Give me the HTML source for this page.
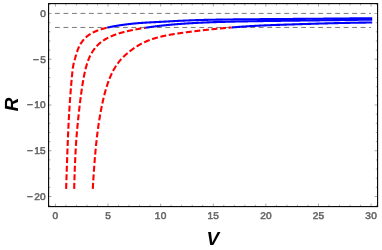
<!DOCTYPE html>
<html><head><meta charset="utf-8"><title>Plot</title>
<style>
html,body{margin:0;padding:0;background:#fff;}
body{width:382px;height:250px;position:relative;overflow:hidden;font-family:"Liberation Sans",sans-serif;}
.t{font-family:"Liberation Sans",sans-serif;font-size:9.8px;fill:#666;stroke:#666;stroke-width:0.55px;letter-spacing:0.25px;text-rendering:geometricPrecision;}
.ax{font-family:"Liberation Sans",sans-serif;font-size:19px;font-weight:bold;font-style:italic;fill:#000;text-rendering:geometricPrecision;}
</style></head><body>
<svg width="382" height="250" viewBox="0 0 382 250" style="position:absolute;left:0;top:0;will-change:transform">
<rect width="382" height="250" fill="#fff"/>
<line x1="55.00" y1="13.4" x2="370.99" y2="13.4" stroke="#7a7a7a" stroke-width="1" stroke-dasharray="4.85 3.64"/>
<line x1="55.00" y1="27.45" x2="370.99" y2="27.45" stroke="#7a7a7a" stroke-width="1" stroke-dasharray="4.85 3.64"/>
<path d="M66.10,188.90 L66.14,187.73 L66.20,186.23 L66.25,184.70 L66.31,183.14 L66.36,181.57 L66.42,179.99 L66.47,178.39 L66.53,176.77 L66.58,175.14 L66.64,173.50 L66.70,171.86 L66.75,170.21 L66.81,168.55 L66.87,166.89 L66.92,165.22 L66.98,163.56 L67.04,161.89 L67.10,160.23 L67.16,158.57 L67.22,156.92 L67.28,155.27 L67.34,153.62 L67.39,151.99 L67.45,150.36 L67.52,148.75 L67.58,147.14 L67.64,145.55 L67.70,143.97 L67.76,142.40 L67.82,140.85 L67.88,139.31 L67.95,137.79 L68.01,136.28 L68.07,134.79 L68.14,133.32 L68.20,131.87 L68.26,130.43 L68.33,129.02 L68.39,127.62 L68.46,126.24 L68.52,124.89 L68.59,123.55 L68.65,122.24 L68.72,120.95 L68.79,119.68 L68.85,118.43 L68.92,117.19 L68.99,115.98 L69.06,114.79 L69.12,113.61 L69.19,112.45 L69.26,111.30 L69.33,110.17 L69.40,109.05 L69.47,107.94 L69.54,106.85 L69.61,105.77 L69.68,104.70 L69.75,103.64 L69.83,102.59 L69.90,101.55 L69.97,100.52 L70.04,99.50 L70.12,98.48 L70.19,97.47 L70.26,96.47 L70.34,95.48 L70.41,94.49 L70.49,93.51 L70.56,92.54 L70.64,91.56 L70.71,90.60 L70.79,89.64 L70.86,88.68 L70.94,87.73 L71.02,86.78 L71.10,85.83 L71.17,84.89 L71.25,83.95 L71.33,83.01 L71.41,82.08 L71.49,81.16 L71.57,80.25 L71.65,79.34 L71.73,78.45 L71.81,77.58 L71.89,76.71 L71.98,75.87 L72.06,75.04 L72.14,74.22 L72.22,73.43 L72.31,72.66 L72.39,71.90 L72.48,71.17 L72.56,70.46 L72.65,69.78 L72.73,69.11 L72.82,68.47 L72.90,67.86 L72.99,67.27 L73.08,66.71 L73.17,66.17 L73.25,65.66 L73.34,65.17 L73.43,64.70 L73.52,64.25 L73.61,63.82 L73.70,63.41 L73.79,63.01 L73.88,62.62 L73.98,62.24 L74.07,61.88 L74.16,61.52 L74.25,61.18 L74.35,60.83 L74.44,60.50 L74.53,60.16 L74.63,59.83 L74.72,59.50 L74.82,59.17 L74.92,58.84 L75.01,58.51 L75.11,58.18 L75.21,57.84 L75.31,57.50 L75.40,57.16 L75.50,56.82 L75.60,56.47 L75.70,56.13 L75.80,55.79 L75.90,55.44 L76.00,55.10 L76.11,54.76 L76.21,54.42 L76.31,54.08 L76.42,53.75 L76.52,53.41 L76.62,53.08 L76.73,52.75 L76.83,52.43 L76.94,52.10 L77.05,51.79 L77.15,51.47 L77.26,51.16 L77.37,50.85 L77.48,50.55 L77.59,50.25 L77.70,49.96 L77.81,49.67 L77.92,49.39 L78.03,49.11 L78.14,48.83 L78.25,48.56 L78.36,48.30 L78.48,48.04 L78.59,47.78 L78.71,47.52 L78.82,47.27 L78.94,47.03 L79.05,46.78 L79.17,46.54 L79.29,46.31 L79.40,46.07 L79.52,45.84 L79.64,45.61 L79.76,45.39 L79.88,45.17 L80.00,44.95 L80.12,44.73 L80.25,44.52 L80.37,44.31 L80.49,44.10 L80.61,43.89 L80.74,43.69 L80.86,43.49 L80.99,43.29 L81.12,43.09 L81.24,42.90 L81.37,42.70 L81.50,42.51 L81.63,42.32 L81.75,42.14 L81.88,41.95 L82.01,41.77 L82.15,41.59 L82.28,41.41 L82.41,41.23 L82.54,41.05 L82.68,40.88 L82.81,40.71 L82.95,40.54 L83.08,40.37 L83.22,40.20 L83.35,40.04 L83.49,39.88 L83.63,39.71 L83.77,39.55 L83.91,39.40 L84.05,39.24 L84.19,39.08 L84.33,38.93 L84.47,38.78 L84.62,38.63 L84.76,38.48 L84.90,38.33 L85.05,38.19 L85.20,38.04 L85.34,37.90 L85.49,37.76 L85.64,37.62 L85.79,37.48 L85.93,37.34 L86.09,37.20 L86.24,37.07 L86.39,36.93 L86.54,36.80 L86.69,36.67 L86.85,36.54 L87.00,36.41 L87.16,36.28 L87.31,36.16 L87.47,36.03 L87.63,35.91 L87.78,35.79 L87.94,35.66 L88.10,35.54 L88.26,35.42 L88.43,35.31 L88.59,35.19 L88.75,35.07 L88.91,34.96 L89.08,34.84 L89.24,34.73 L89.41,34.62 L89.58,34.51 L89.74,34.40 L89.91,34.29 L90.08,34.18 L90.25,34.07 L90.42,33.97 L90.60,33.86 L90.77,33.76 L90.94,33.65 L91.12,33.55 L91.29,33.45 L91.47,33.35 L91.64,33.25 L91.82,33.15 L92.00,33.05 L92.18,32.95 L92.36,32.86 L92.54,32.76 L92.72,32.67 L92.91,32.57 L93.09,32.48 L93.28,32.38 L93.46,32.29 L93.65,32.20 L93.84,32.11 L94.02,32.02 L94.21,31.93 L94.40,31.84 L94.59,31.76 L94.79,31.67 L94.98,31.58 L95.17,31.50 L95.37,31.41 L95.56,31.33 L95.76,31.24 L95.96,31.16 L96.16,31.08 L96.36,31.00 L96.56,30.92 L96.76,30.84 L96.96,30.76 L97.17,30.68 L97.37,30.60 L97.58,30.52 L97.78,30.44 L97.99,30.37 L98.20,30.29 L98.41,30.21 L98.62,30.14 L98.83,30.06 L99.04,29.99 L99.26,29.91 L99.47,29.84 L99.69,29.77 L99.90,29.70 L100.12,29.63 L100.34,29.55 L100.56,29.48 L100.78,29.41 L101.00,29.34 L101.23,29.27 L101.45,29.21 L101.68,29.14 L101.90,29.07 L102.13,29.00 L102.36,28.93 L102.59,28.87 L102.82,28.80 L103.05,28.74 L103.28,28.67 L103.52,28.61 L103.75,28.54 L103.99,28.48 L104.23,28.41 L104.47,28.35 L104.71,28.29 L104.95,28.23 L105.19,28.16 L105.43,28.10 L105.68,28.04 L105.92,27.98 L106.17,27.92 L106.42,27.86 L106.67,27.80 L106.92,27.74 L107.17,27.68 L107.30,27.65" fill="none" stroke="#ff0000" stroke-width="2.1" stroke-dasharray="6 2.6" stroke-linejoin="round"/>
<path d="M74.18,188.90 L74.25,186.31 L74.33,183.53 L74.40,180.85 L74.48,178.28 L74.56,175.80 L74.64,173.43 L74.72,171.14 L74.80,168.95 L74.88,166.83 L74.96,164.79 L75.04,162.83 L75.12,160.94 L75.21,159.11 L75.29,157.35 L75.37,155.64 L75.45,154.00 L75.54,152.41 L75.62,150.87 L75.70,149.38 L75.79,147.93 L75.87,146.53 L75.96,145.17 L76.04,143.85 L76.13,142.57 L76.21,141.32 L76.30,140.10 L76.39,138.91 L76.47,137.76 L76.56,136.62 L76.65,135.52 L76.74,134.44 L76.83,133.37 L76.91,132.33 L77.00,131.31 L77.09,130.30 L77.18,129.31 L77.27,128.34 L77.36,127.37 L77.45,126.42 L77.54,125.48 L77.64,124.54 L77.73,123.61 L77.82,122.69 L77.91,121.78 L78.01,120.87 L78.10,119.96 L78.19,119.05 L78.29,118.15 L78.38,117.24 L78.48,116.34 L78.57,115.44 L78.67,114.54 L78.77,113.64 L78.86,112.74 L78.96,111.85 L79.06,110.96 L79.15,110.08 L79.25,109.20 L79.35,108.32 L79.45,107.44 L79.55,106.57 L79.65,105.71 L79.75,104.84 L79.85,103.99 L79.95,103.14 L80.05,102.29 L80.15,101.45 L80.26,100.61 L80.36,99.78 L80.46,98.95 L80.56,98.13 L80.67,97.32 L80.77,96.51 L80.88,95.71 L80.98,94.92 L81.09,94.13 L81.19,93.35 L81.30,92.57 L81.41,91.80 L81.52,91.04 L81.62,90.29 L81.73,89.54 L81.84,88.80 L81.95,88.06 L82.06,87.34 L82.17,86.62 L82.28,85.91 L82.39,85.20 L82.50,84.51 L82.61,83.82 L82.72,83.13 L82.84,82.46 L82.95,81.79 L83.06,81.13 L83.18,80.48 L83.29,79.84 L83.41,79.20 L83.52,78.57 L83.64,77.95 L83.76,77.34 L83.87,76.73 L83.99,76.13 L84.11,75.54 L84.23,74.96 L84.34,74.39 L84.46,73.82 L84.58,73.26 L84.70,72.71 L84.82,72.16 L84.95,71.63 L85.07,71.10 L85.19,70.58 L85.31,70.06 L85.44,69.56 L85.56,69.06 L85.68,68.57 L85.81,68.08 L85.93,67.61 L86.06,67.14 L86.18,66.68 L86.31,66.23 L86.44,65.78 L86.57,65.34 L86.69,64.91 L86.82,64.48 L86.95,64.06 L87.08,63.65 L87.21,63.25 L87.34,62.85 L87.48,62.45 L87.61,62.06 L87.74,61.68 L87.87,61.31 L88.01,60.93 L88.14,60.57 L88.28,60.21 L88.41,59.86 L88.55,59.51 L88.68,59.16 L88.82,58.82 L88.96,58.49 L89.09,58.16 L89.23,57.83 L89.37,57.51 L89.51,57.20 L89.65,56.89 L89.79,56.58 L89.93,56.28 L90.08,55.98 L90.22,55.68 L90.36,55.39 L90.51,55.10 L90.65,54.82 L90.79,54.54 L90.94,54.27 L91.09,53.99 L91.23,53.73 L91.38,53.46 L91.53,53.20 L91.68,52.94 L91.83,52.69 L91.98,52.43 L92.13,52.18 L92.28,51.94 L92.43,51.70 L92.58,51.46 L92.73,51.22 L92.89,50.99 L93.04,50.75 L93.19,50.53 L93.35,50.30 L93.51,50.08 L93.66,49.85 L93.82,49.64 L93.98,49.42 L94.14,49.21 L94.29,49.00 L94.45,48.79 L94.61,48.58 L94.78,48.38 L94.94,48.17 L95.10,47.97 L95.26,47.78 L95.43,47.58 L95.59,47.39 L95.75,47.19 L95.92,47.00 L96.09,46.81 L96.25,46.63 L96.42,46.44 L96.59,46.26 L96.76,46.08 L96.93,45.90 L97.10,45.72 L97.27,45.54 L97.44,45.37 L97.61,45.20 L97.79,45.03 L97.96,44.86 L98.14,44.69 L98.31,44.52 L98.49,44.35 L98.66,44.19 L98.84,44.03 L99.02,43.87 L99.20,43.71 L99.38,43.55 L99.56,43.39 L99.74,43.24 L99.92,43.08 L100.10,42.93 L100.29,42.78 L100.47,42.63 L100.66,42.48 L100.84,42.33 L101.03,42.19 L101.21,42.04 L101.40,41.90 L101.59,41.76 L101.78,41.61 L101.97,41.47 L102.16,41.34 L102.35,41.20 L102.54,41.06 L102.74,40.93 L102.93,40.79 L103.13,40.66 L103.32,40.53 L103.52,40.39 L103.72,40.26 L103.91,40.14 L104.11,40.01 L104.31,39.88 L104.51,39.76 L104.71,39.63 L104.92,39.51 L105.12,39.38 L105.32,39.26 L105.53,39.14 L105.73,39.02 L105.94,38.90 L106.15,38.78 L106.35,38.67 L106.56,38.55 L106.77,38.43 L106.98,38.32 L107.19,38.21 L107.40,38.09 L107.62,37.98 L107.83,37.87 L108.05,37.76 L108.26,37.65 L108.48,37.54 L108.70,37.43 L108.91,37.33 L109.13,37.22 L109.35,37.12 L109.57,37.01 L109.80,36.91 L110.02,36.80 L110.24,36.70 L110.47,36.60 L110.69,36.50 L110.92,36.40 L111.15,36.30 L111.37,36.20 L111.60,36.10 L111.83,36.00 L112.06,35.91 L112.30,35.81 L112.53,35.71 L112.76,35.62 L113.00,35.52 L113.23,35.43 L113.47,35.34 L113.71,35.25 L113.94,35.15 L114.18,35.06 L114.42,34.97 L114.67,34.88 L114.91,34.79 L115.15,34.70 L115.40,34.61 L115.64,34.53 L115.89,34.44 L116.14,34.35 L116.38,34.27 L116.63,34.18 L116.88,34.10 L117.14,34.01 L117.39,33.93 L117.64,33.84 L117.90,33.76 L118.15,33.68 L118.41,33.60 L118.67,33.51 L118.92,33.43 L119.18,33.35 L119.45,33.27 L119.71,33.19 L119.97,33.11 L120.23,33.03 L120.50,32.96 L120.77,32.88 L121.03,32.80 L121.30,32.72 L121.57,32.65 L121.84,32.57 L122.11,32.49 L122.39,32.42 L122.66,32.34 L122.93,32.27 L123.21,32.19 L123.49,32.12 L123.77,32.05 L124.04,31.97 L124.33,31.90 L124.61,31.83 L124.89,31.76 L125.17,31.68 L125.46,31.61 L125.75,31.54 L126.03,31.47 L126.32,31.40 L126.61,31.33 L126.90,31.26 L127.19,31.19 L127.49,31.12 L127.78,31.06 L128.08,30.99 L128.38,30.92 L128.67,30.85 L128.97,30.78 L129.27,30.72 L129.58,30.65 L129.88,30.58 L130.18,30.52 L130.49,30.45 L130.79,30.39 L131.10,30.32 L131.41,30.26 L131.72,30.19 L132.03,30.13 L132.35,30.06 L132.66,30.00 L132.98,29.93 L133.29,29.87 L133.61,29.81 L133.93,29.74 L134.25,29.68 L134.57,29.62 L134.90,29.56 L135.22,29.50 L135.55,29.43 L135.88,29.37 L136.20,29.31 L136.53,29.25 L136.87,29.19 L137.20,29.13 L137.53,29.07 L137.87,29.01 L138.20,28.95 L138.54,28.89 L138.88,28.83 L139.22,28.77 L139.56,28.71 L139.91,28.65 L140.25,28.59 L140.60,28.53 L140.95,28.47 L141.30,28.42 L141.65,28.36 L142.00,28.30 L142.35,28.24 L142.71,28.18 L143.06,28.13 L143.42,28.07 L143.78,28.01 L144.14,27.96 L144.50,27.90 L144.87,27.84 L145.20,27.79" fill="none" stroke="#ff0000" stroke-width="2.1" stroke-dasharray="6 2.6" stroke-linejoin="round"/>
<path d="M92.79,188.90 L92.83,188.15 L92.95,186.08 L93.07,184.05 L93.18,182.07 L93.30,180.12 L93.42,178.22 L93.54,176.35 L93.66,174.53 L93.78,172.74 L93.90,170.99 L94.02,169.27 L94.14,167.59 L94.26,165.94 L94.38,164.32 L94.50,162.74 L94.63,161.18 L94.75,159.66 L94.87,158.16 L94.99,156.70 L95.12,155.26 L95.24,153.84 L95.37,152.46 L95.49,151.09 L95.62,149.76 L95.74,148.44 L95.87,147.15 L95.99,145.88 L96.12,144.64 L96.25,143.41 L96.37,142.21 L96.50,141.03 L96.63,139.86 L96.76,138.72 L96.89,137.59 L97.02,136.49 L97.15,135.40 L97.28,134.32 L97.41,133.27 L97.54,132.23 L97.67,131.20 L97.80,130.20 L97.94,129.20 L98.07,128.22 L98.20,127.26 L98.34,126.31 L98.47,125.37 L98.60,124.44 L98.74,123.53 L98.87,122.63 L99.01,121.74 L99.14,120.87 L99.28,120.00 L99.42,119.15 L99.56,118.30 L99.69,117.47 L99.83,116.64 L99.97,115.83 L100.11,115.03 L100.25,114.23 L100.39,113.44 L100.53,112.67 L100.67,111.90 L100.81,111.13 L100.95,110.38 L101.09,109.63 L101.24,108.90 L101.38,108.16 L101.52,107.44 L101.67,106.72 L101.81,106.01 L101.96,105.31 L102.10,104.61 L102.25,103.93 L102.39,103.24 L102.54,102.57 L102.69,101.90 L102.83,101.24 L102.98,100.58 L103.13,99.94 L103.28,99.29 L103.43,98.66 L103.58,98.03 L103.73,97.41 L103.88,96.79 L104.03,96.18 L104.18,95.58 L104.33,94.98 L104.48,94.39 L104.64,93.80 L104.79,93.22 L104.95,92.65 L105.10,92.08 L105.25,91.52 L105.41,90.97 L105.57,90.42 L105.72,89.87 L105.88,89.33 L106.04,88.80 L106.19,88.27 L106.35,87.75 L106.51,87.23 L106.67,86.72 L106.83,86.22 L106.99,85.72 L107.15,85.22 L107.31,84.73 L107.47,84.25 L107.64,83.77 L107.80,83.29 L107.96,82.82 L108.13,82.36 L108.29,81.90 L108.45,81.45 L108.62,81.00 L108.78,80.55 L108.95,80.11 L109.12,79.68 L109.29,79.25 L109.45,78.82 L109.62,78.40 L109.79,77.98 L109.96,77.57 L110.13,77.17 L110.30,76.76 L110.47,76.36 L110.64,75.97 L110.81,75.58 L110.99,75.19 L111.16,74.81 L111.33,74.43 L111.51,74.06 L111.68,73.69 L111.86,73.33 L112.03,72.96 L112.21,72.60 L112.39,72.25 L112.56,71.90 L112.74,71.55 L112.92,71.21 L113.10,70.87 L113.28,70.53 L113.46,70.19 L113.64,69.86 L113.82,69.53 L114.00,69.21 L114.18,68.89 L114.37,68.57 L114.55,68.25 L114.74,67.94 L114.92,67.63 L115.11,67.33 L115.29,67.02 L115.48,66.72 L115.66,66.42 L115.85,66.13 L116.04,65.84 L116.23,65.55 L116.42,65.26 L116.61,64.98 L116.80,64.70 L116.99,64.42 L117.18,64.15 L117.37,63.87 L117.57,63.60 L117.76,63.34 L117.95,63.07 L118.15,62.81 L118.34,62.55 L118.54,62.30 L118.73,62.04 L118.93,61.79 L119.13,61.54 L119.33,61.30 L119.53,61.05 L119.73,60.81 L119.93,60.57 L120.13,60.34 L120.33,60.10 L120.53,59.87 L120.73,59.64 L120.94,59.41 L121.14,59.19 L121.34,58.96 L121.55,58.74 L121.75,58.52 L121.96,58.30 L122.17,58.08 L122.38,57.87 L122.58,57.65 L122.79,57.44 L123.00,57.23 L123.21,57.02 L123.42,56.81 L123.63,56.61 L123.85,56.40 L124.06,56.20 L124.27,56.00 L124.49,55.80 L124.70,55.60 L124.92,55.40 L125.13,55.20 L125.35,55.01 L125.57,54.81 L125.79,54.62 L126.00,54.43 L126.22,54.24 L126.44,54.05 L126.67,53.86 L126.89,53.67 L127.11,53.48 L127.33,53.29 L127.56,53.11 L127.78,52.92 L128.00,52.74 L128.23,52.56 L128.46,52.37 L128.68,52.19 L128.91,52.01 L129.14,51.83 L129.37,51.65 L129.60,51.47 L129.83,51.29 L130.06,51.11 L130.29,50.93 L130.53,50.76 L130.76,50.58 L130.99,50.40 L131.23,50.23 L131.46,50.05 L131.70,49.88 L131.94,49.70 L132.17,49.53 L132.41,49.35 L132.65,49.18 L132.89,49.01 L133.13,48.84 L133.37,48.67 L133.62,48.50 L133.86,48.33 L134.10,48.16 L134.35,47.99 L134.59,47.83 L134.84,47.66 L135.09,47.49 L135.33,47.33 L135.58,47.17 L135.83,47.00 L136.08,46.84 L136.33,46.68 L136.58,46.52 L136.84,46.36 L137.09,46.20 L137.34,46.04 L137.60,45.89 L137.85,45.73 L138.11,45.58 L138.36,45.42 L138.62,45.27 L138.88,45.12 L139.14,44.97 L139.40,44.82 L139.66,44.67 L139.92,44.52 L140.19,44.38 L140.45,44.23 L140.71,44.09 L140.98,43.94 L141.24,43.80 L141.51,43.66 L141.78,43.52 L142.05,43.38 L142.31,43.24 L142.58,43.10 L142.86,42.97 L143.13,42.83 L143.40,42.70 L143.67,42.57 L143.95,42.44 L144.22,42.31 L144.50,42.18 L144.77,42.05 L145.05,41.92 L145.33,41.80 L145.61,41.67 L145.89,41.55 L146.17,41.43 L146.45,41.31 L146.73,41.19 L147.02,41.07 L147.30,40.95 L147.59,40.83 L147.87,40.72 L148.16,40.60 L148.45,40.49 L148.74,40.37 L149.03,40.26 L149.32,40.15 L149.61,40.04 L149.90,39.93 L150.20,39.82 L150.49,39.72 L150.78,39.61 L151.08,39.50 L151.38,39.40 L151.68,39.30 L151.97,39.19 L152.27,39.09 L152.57,38.99 L152.88,38.89 L153.18,38.79 L153.48,38.69 L153.79,38.60 L154.09,38.50 L154.40,38.41 L154.71,38.31 L155.01,38.22 L155.32,38.13 L155.63,38.03 L155.94,37.94 L156.26,37.85 L156.57,37.76 L156.88,37.67 L157.20,37.59 L157.51,37.50 L157.83,37.41 L158.15,37.33 L158.47,37.24 L158.79,37.16 L159.11,37.08 L159.43,36.99 L159.75,36.91 L160.08,36.83 L160.40,36.75 L160.73,36.67 L161.05,36.60 L161.38,36.52 L161.71,36.44 L162.04,36.36 L162.37,36.29 L162.70,36.21 L163.04,36.14 L163.37,36.07 L163.70,35.99 L164.04,35.92 L164.38,35.85 L164.72,35.78 L165.06,35.71 L165.40,35.64 L165.74,35.57 L166.08,35.50 L166.42,35.43 L166.77,35.36 L167.11,35.30 L167.46,35.23 L167.81,35.16 L168.15,35.10 L168.50,35.03 L168.86,34.97 L169.21,34.91 L169.56,34.84 L169.91,34.78 L170.27,34.71 L170.63,34.65 L170.98,34.59 L171.34,34.53 L171.70,34.47 L172.06,34.41 L172.42,34.34 L172.79,34.28 L173.15,34.22 L173.52,34.16 L173.88,34.10 L174.25,34.05 L174.62,33.99 L174.99,33.93 L175.36,33.87 L175.73,33.81 L176.10,33.75 L176.48,33.70 L176.85,33.64 L177.23,33.58 L177.61,33.52 L177.99,33.47 L178.37,33.41 L178.75,33.35 L179.13,33.30 L179.52,33.24 L179.90,33.19 L180.29,33.13 L180.67,33.07 L181.06,33.02 L181.45,32.96 L181.84,32.91 L182.23,32.85 L182.63,32.80 L183.02,32.74 L183.42,32.69 L183.81,32.63 L184.21,32.58 L184.61,32.53 L185.01,32.47 L185.41,32.42 L185.82,32.36 L186.22,32.31 L186.63,32.25 L187.03,32.20 L187.44,32.14 L187.85,32.09 L188.26,32.04 L188.67,31.98 L189.09,31.93 L189.50,31.87 L189.92,31.82 L190.34,31.77 L190.75,31.71 L191.17,31.66 L191.59,31.61 L192.02,31.55 L192.44,31.50 L192.86,31.44 L193.29,31.39 L193.72,31.34 L194.15,31.28 L194.58,31.23 L195.01,31.18 L195.44,31.12 L195.88,31.07 L196.31,31.02 L196.75,30.96 L197.19,30.91 L197.62,30.86 L198.07,30.81 L198.51,30.75 L198.95,30.70 L199.40,30.65 L199.84,30.60 L200.29,30.54 L200.74,30.49 L201.19,30.44 L201.64,30.39 L202.10,30.34 L202.55,30.28 L203.01,30.23 L203.46,30.18 L203.92,30.13 L204.38,30.08 L204.84,30.03 L205.31,29.98 L205.77,29.92 L206.24,29.87 L206.71,29.82 L207.17,29.77 L207.64,29.72 L208.12,29.67 L208.59,29.62 L209.06,29.57 L209.54,29.52 L210.02,29.47 L210.50,29.42 L210.98,29.37 L211.46,29.32 L211.94,29.27 L212.43,29.22 L212.92,29.17 L213.40,29.12 L213.89,29.07 L214.38,29.02 L214.88,28.97 L215.37,28.93 L215.87,28.88 L216.36,28.83 L216.86,28.78 L217.36,28.73 L217.87,28.68 L218.37,28.64 L218.87,28.59 L219.38,28.54 L219.89,28.49 L220.40,28.45 L220.91,28.40 L221.42,28.35 L221.94,28.30 L222.45,28.26 L222.97,28.21 L223.49,28.16 L224.01,28.12 L224.53,28.07 L225.06,28.02 L225.58,27.98 L226.11,27.93 L226.64,27.89 L227.17,27.84 L227.70,27.80 L228.23,27.75 L228.77,27.71 L229.31,27.66 L229.85,27.62 L230.39,27.57 L230.93,27.53 L231.47,27.48 L231.60,27.47" fill="none" stroke="#ff0000" stroke-width="2.1" stroke-dasharray="6 2.6" stroke-linejoin="round"/>
<path d="M107.30,27.65 L107.42,27.62 L107.68,27.56 L107.93,27.50 L108.19,27.45 L108.45,27.39 L108.71,27.33 L108.97,27.27 L109.23,27.22 L109.49,27.16 L109.76,27.11 L110.02,27.05 L110.29,26.99 L110.56,26.94 L110.83,26.88 L111.10,26.83 L111.37,26.78 L111.64,26.72 L111.92,26.67 L112.19,26.61 L112.47,26.56 L112.75,26.51 L113.03,26.45 L113.31,26.40 L113.60,26.35 L113.88,26.30 L114.17,26.25 L114.45,26.19 L114.74,26.14 L115.03,26.09 L115.32,26.04 L115.61,25.99 L115.91,25.94 L116.20,25.89 L116.50,25.84 L116.80,25.79 L117.10,25.74 L117.40,25.69 L117.70,25.64 L118.01,25.59 L118.31,25.55 L118.62,25.50 L118.93,25.45 L119.24,25.40 L119.55,25.35 L119.86,25.31 L120.18,25.26 L120.49,25.21 L120.81,25.16 L121.13,25.12 L121.45,25.07 L121.77,25.02 L122.10,24.98 L122.42,24.93 L122.75,24.88 L123.08,24.84 L123.41,24.79 L123.74,24.75 L124.07,24.70 L124.41,24.66 L124.75,24.61 L125.08,24.57 L125.42,24.52 L125.77,24.48 L126.11,24.43 L126.45,24.39 L126.80,24.35 L127.15,24.30 L127.50,24.26 L127.85,24.22 L128.20,24.17 L128.56,24.13 L128.92,24.09 L129.28,24.05 L129.64,24.00 L130.00,23.96 L130.36,23.92 L130.73,23.88 L131.09,23.84 L131.46,23.80 L131.83,23.76 L132.21,23.72 L132.58,23.68 L132.96,23.64 L133.34,23.60 L133.72,23.57 L134.10,23.53 L134.48,23.49 L134.87,23.45 L135.25,23.42 L135.64,23.38 L136.04,23.34 L136.43,23.31 L136.82,23.27 L137.22,23.24 L137.62,23.21 L138.02,23.17 L138.42,23.14 L138.83,23.10 L139.23,23.07 L139.64,23.04 L140.05,23.01 L140.47,22.98 L140.88,22.95 L141.30,22.92 L141.72,22.89 L142.14,22.86 L142.56,22.83 L142.98,22.80 L143.41,22.77 L143.84,22.74 L144.27,22.72 L144.70,22.69 L145.14,22.66 L145.58,22.64 L146.01,22.61 L146.46,22.58 L146.90,22.56 L147.35,22.53 L147.79,22.51 L148.24,22.48 L148.70,22.46 L149.15,22.43 L149.61,22.41 L150.07,22.38 L150.53,22.36 L150.99,22.34 L151.46,22.31 L151.92,22.29 L152.39,22.26 L152.87,22.24 L153.34,22.22 L153.82,22.19 L154.30,22.17 L154.78,22.14 L155.26,22.12 L155.75,22.09 L156.24,22.07 L156.73,22.04 L157.22,22.02 L157.72,21.99 L158.22,21.97 L158.72,21.94 L159.22,21.91 L159.73,21.89 L160.24,21.86 L160.75,21.83 L161.26,21.81 L161.77,21.78 L162.29,21.75 L162.81,21.72 L163.34,21.69 L163.86,21.67 L164.39,21.64 L164.92,21.61 L165.45,21.58 L165.99,21.55 L166.53,21.52 L167.07,21.49 L167.61,21.46 L168.16,21.43 L168.71,21.40 L169.26,21.37 L169.81,21.34 L170.37,21.31 L170.93,21.28 L171.49,21.25 L172.06,21.22 L172.62,21.19 L173.20,21.16 L173.77,21.12 L174.34,21.09 L174.92,21.06 L175.51,21.03 L176.09,21.00 L176.68,20.97 L177.27,20.94 L177.86,20.91 L178.46,20.88 L179.06,20.85 L179.66,20.82 L180.26,20.80 L180.87,20.77 L181.48,20.74 L182.09,20.71 L182.71,20.68 L183.33,20.65 L183.95,20.62 L184.58,20.59 L185.21,20.57 L185.84,20.54 L186.47,20.51 L187.11,20.49 L187.75,20.46 L188.40,20.43 L189.04,20.41 L189.69,20.38 L190.35,20.36 L191.00,20.33 L191.66,20.31 L192.33,20.28 L192.99,20.26 L193.66,20.23 L194.33,20.21 L195.01,20.19 L195.69,20.16 L196.37,20.14 L197.06,20.12 L197.75,20.10 L198.44,20.08 L199.13,20.06 L199.83,20.04 L200.54,20.02 L201.24,20.00 L201.95,19.98 L202.66,19.96 L203.38,19.94 L204.10,19.92 L204.82,19.90 L205.55,19.89 L206.28,19.87 L207.01,19.85 L207.75,19.84 L208.49,19.82 L209.24,19.80 L209.99,19.79 L210.74,19.77 L211.49,19.76 L212.25,19.74 L213.02,19.73 L213.78,19.71 L214.55,19.70 L215.33,19.68 L216.10,19.67 L216.89,19.66 L217.67,19.64 L218.46,19.63 L219.25,19.62 L220.05,19.60 L220.85,19.59 L221.65,19.58 L222.46,19.57 L223.28,19.55 L224.09,19.54 L224.91,19.53 L225.74,19.52 L226.56,19.51 L227.40,19.50 L228.23,19.48 L229.07,19.47 L229.92,19.46 L230.77,19.45 L231.62,19.44 L232.48,19.43 L233.34,19.42 L234.20,19.41 L235.07,19.40 L235.94,19.39 L236.82,19.38 L237.70,19.37 L238.59,19.36 L239.48,19.35 L240.38,19.35 L241.27,19.34 L242.18,19.33 L243.09,19.32 L244.00,19.31 L244.92,19.30 L245.84,19.29 L246.76,19.28 L247.69,19.28 L248.63,19.27 L249.57,19.26 L250.51,19.25 L251.46,19.24 L252.41,19.23 L253.37,19.23 L254.33,19.22 L255.30,19.21 L256.27,19.20 L257.25,19.19 L258.23,19.19 L259.21,19.18 L260.20,19.17 L261.20,19.16 L262.20,19.15 L263.21,19.15 L264.22,19.14 L265.23,19.13 L266.25,19.12 L267.27,19.12 L268.30,19.11 L269.34,19.10 L270.38,19.09 L271.42,19.08 L272.47,19.08 L273.53,19.07 L274.59,19.06 L275.65,19.05 L276.72,19.04 L277.80,19.04 L278.88,19.03 L279.97,19.02 L281.06,19.01 L282.15,19.00 L283.26,19.00 L284.36,18.99 L285.48,18.98 L286.59,18.97 L287.72,18.96 L288.85,18.95 L289.98,18.95 L291.12,18.94 L292.27,18.93 L293.42,18.92 L294.57,18.91 L295.74,18.90 L296.90,18.89 L298.08,18.88 L299.26,18.88 L300.44,18.87 L301.63,18.86 L302.83,18.85 L304.03,18.84 L305.24,18.83 L306.45,18.82 L307.67,18.81 L308.90,18.80 L310.13,18.79 L311.37,18.78 L312.61,18.77 L313.86,18.76 L315.12,18.75 L316.38,18.74 L317.65,18.72 L318.92,18.71 L320.20,18.70 L321.49,18.69 L322.78,18.68 L324.08,18.67 L325.38,18.66 L326.69,18.64 L328.01,18.63 L329.34,18.62 L330.67,18.61 L332.00,18.60 L333.35,18.58 L334.70,18.57 L336.06,18.56 L337.42,18.54 L338.79,18.53 L340.17,18.52 L341.55,18.50 L342.94,18.49 L344.34,18.48 L345.74,18.46 L347.15,18.45 L348.57,18.43 L349.99,18.42 L351.42,18.41 L352.86,18.39 L354.30,18.38 L355.76,18.36 L357.22,18.34 L358.68,18.33 L360.15,18.31 L361.64,18.30 L363.12,18.28 L364.62,18.26 L366.12,18.25 L367.63,18.23 L369.14,18.21 L370.67,18.20 L372.20,18.18" fill="none" stroke="#0000ff" stroke-width="2.1" stroke-linejoin="round"/>
<path d="M145.20,27.79 L145.23,27.79 L145.60,27.73 L145.97,27.67 L146.34,27.62 L146.71,27.56 L147.08,27.51 L147.46,27.45 L147.83,27.40 L148.21,27.34 L148.59,27.29 L148.97,27.23 L149.35,27.18 L149.73,27.12 L150.12,27.07 L150.50,27.02 L150.89,26.96 L151.28,26.91 L151.67,26.86 L152.07,26.80 L152.46,26.75 L152.86,26.70 L153.25,26.64 L153.65,26.59 L154.05,26.54 L154.46,26.49 L154.86,26.44 L155.27,26.38 L155.67,26.33 L156.08,26.28 L156.49,26.23 L156.91,26.18 L157.32,26.13 L157.74,26.08 L158.15,26.03 L158.57,25.98 L158.99,25.93 L159.42,25.88 L159.84,25.83 L160.27,25.78 L160.70,25.74 L161.12,25.69 L161.56,25.64 L161.99,25.59 L162.42,25.54 L162.86,25.50 L163.30,25.45 L163.74,25.40 L164.18,25.36 L164.62,25.31 L165.07,25.26 L165.52,25.22 L165.97,25.17 L166.42,25.13 L166.87,25.08 L167.32,25.04 L167.78,24.99 L168.24,24.95 L168.70,24.90 L169.16,24.86 L169.62,24.81 L170.09,24.77 L170.56,24.73 L171.03,24.68 L171.50,24.64 L171.97,24.60 L172.45,24.56 L172.93,24.52 L173.40,24.47 L173.89,24.43 L174.37,24.39 L174.85,24.35 L175.34,24.31 L175.83,24.27 L176.32,24.23 L176.81,24.19 L177.31,24.15 L177.81,24.11 L178.30,24.07 L178.81,24.03 L179.31,23.99 L179.81,23.96 L180.32,23.92 L180.83,23.88 L181.34,23.84 L181.86,23.81 L182.37,23.77 L182.89,23.73 L183.41,23.70 L183.93,23.66 L184.45,23.62 L184.98,23.59 L185.51,23.55 L186.04,23.52 L186.57,23.48 L187.11,23.45 L187.64,23.41 L188.18,23.38 L188.72,23.35 L189.27,23.31 L189.81,23.28 L190.36,23.25 L190.91,23.21 L191.46,23.18 L192.02,23.15 L192.57,23.12 L193.13,23.09 L193.69,23.05 L194.26,23.02 L194.82,22.99 L195.39,22.96 L195.96,22.93 L196.53,22.90 L197.11,22.87 L197.69,22.84 L198.27,22.81 L198.85,22.78 L199.43,22.76 L200.02,22.73 L200.61,22.70 L201.20,22.67 L201.79,22.64 L202.39,22.62 L202.99,22.59 L203.59,22.56 L204.20,22.54 L204.80,22.51 L205.41,22.48 L206.02,22.46 L206.64,22.43 L207.25,22.41 L207.87,22.38 L208.49,22.36 L209.11,22.33 L209.74,22.31 L210.37,22.29 L211.00,22.26 L211.64,22.24 L212.27,22.22 L212.91,22.19 L213.55,22.17 L214.20,22.15 L214.84,22.13 L215.49,22.10 L216.15,22.08 L216.80,22.06 L217.46,22.04 L218.12,22.02 L218.78,22.00 L219.45,21.98 L220.11,21.96 L220.79,21.94 L221.46,21.92 L222.14,21.90 L222.81,21.88 L223.50,21.86 L224.18,21.84 L224.87,21.83 L225.56,21.81 L226.25,21.79 L226.95,21.77 L227.65,21.75 L228.35,21.73 L229.05,21.72 L229.76,21.70 L230.47,21.68 L231.18,21.67 L231.90,21.65 L232.62,21.63 L233.34,21.62 L234.06,21.60 L234.79,21.58 L235.52,21.57 L236.26,21.55 L236.99,21.54 L237.73,21.52 L238.47,21.50 L239.22,21.49 L239.97,21.47 L240.72,21.46 L241.47,21.44 L242.23,21.43 L242.99,21.41 L243.76,21.40 L244.52,21.39 L245.29,21.37 L246.07,21.36 L246.84,21.34 L247.62,21.33 L248.41,21.31 L249.19,21.30 L249.98,21.29 L250.77,21.27 L251.57,21.26 L252.37,21.25 L253.17,21.23 L253.97,21.22 L254.78,21.21 L255.60,21.19 L256.41,21.18 L257.23,21.17 L258.05,21.15 L258.88,21.14 L259.70,21.13 L260.54,21.11 L261.37,21.10 L262.21,21.09 L263.05,21.08 L263.90,21.06 L264.75,21.05 L265.60,21.04 L266.45,21.03 L267.31,21.01 L268.18,21.00 L269.04,20.99 L269.91,20.98 L270.79,20.96 L271.66,20.95 L272.54,20.94 L273.43,20.93 L274.31,20.91 L275.21,20.90 L276.10,20.89 L277.00,20.88 L277.90,20.86 L278.81,20.85 L279.72,20.84 L280.63,20.83 L281.55,20.82 L282.47,20.80 L283.39,20.79 L284.32,20.78 L285.25,20.77 L286.19,20.76 L287.13,20.74 L288.07,20.73 L289.02,20.72 L289.97,20.71 L290.92,20.69 L291.88,20.68 L292.84,20.67 L293.81,20.66 L294.78,20.64 L295.75,20.63 L296.73,20.62 L297.71,20.61 L298.70,20.59 L299.69,20.58 L300.69,20.57 L301.68,20.56 L302.69,20.54 L303.69,20.53 L304.70,20.52 L305.72,20.51 L306.74,20.49 L307.76,20.48 L308.79,20.47 L309.82,20.45 L310.85,20.44 L311.89,20.43 L312.94,20.41 L313.98,20.40 L315.04,20.39 L316.09,20.37 L317.15,20.36 L318.22,20.35 L319.29,20.33 L320.36,20.32 L321.44,20.31 L322.52,20.29 L323.61,20.28 L324.70,20.27 L325.80,20.25 L326.90,20.24 L328.00,20.22 L329.11,20.21 L330.23,20.19 L331.35,20.18 L332.47,20.17 L333.60,20.15 L334.73,20.14 L335.87,20.12 L337.01,20.11 L338.15,20.09 L339.30,20.08 L340.46,20.06 L341.62,20.05 L342.78,20.03 L343.95,20.02 L345.13,20.00 L346.31,19.98 L347.49,19.97 L348.68,19.95 L349.87,19.94 L351.07,19.92 L352.27,19.90 L353.48,19.89 L354.69,19.87 L355.91,19.85 L357.13,19.84 L358.36,19.82 L359.59,19.80 L360.83,19.79 L362.07,19.77 L363.32,19.75 L364.58,19.74 L365.83,19.72 L367.10,19.70 L368.36,19.68 L369.64,19.67 L370.92,19.65 L372.20,19.63" fill="none" stroke="#0000ff" stroke-width="2.1" stroke-linejoin="round"/>
<path d="M231.60,27.47 L232.02,27.44 L232.56,27.39 L233.11,27.35 L233.66,27.31 L234.22,27.26 L234.77,27.22 L235.33,27.18 L235.88,27.13 L236.44,27.09 L237.00,27.05 L237.57,27.00 L238.13,26.96 L238.70,26.92 L239.26,26.88 L239.83,26.84 L240.40,26.80 L240.98,26.76 L241.55,26.71 L242.13,26.67 L242.71,26.63 L243.29,26.59 L243.87,26.55 L244.45,26.51 L245.04,26.48 L245.63,26.44 L246.22,26.40 L246.81,26.36 L247.40,26.32 L247.99,26.28 L248.59,26.25 L249.19,26.21 L249.79,26.17 L250.39,26.14 L251.00,26.10 L251.60,26.07 L252.21,26.03 L252.82,25.99 L253.43,25.96 L254.04,25.93 L254.66,25.89 L255.28,25.86 L255.89,25.82 L256.52,25.79 L257.14,25.76 L257.76,25.73 L258.39,25.70 L259.02,25.66 L259.65,25.63 L260.28,25.60 L260.92,25.57 L261.55,25.54 L262.19,25.51 L262.83,25.48 L263.47,25.45 L264.12,25.42 L264.76,25.40 L265.41,25.37 L266.06,25.34 L266.72,25.31 L267.37,25.29 L268.03,25.26 L268.69,25.23 L269.35,25.20 L270.01,25.18 L270.67,25.15 L271.34,25.13 L272.01,25.10 L272.68,25.07 L273.35,25.05 L274.03,25.02 L274.70,25.00 L275.38,24.97 L276.06,24.95 L276.75,24.92 L277.43,24.90 L278.12,24.87 L278.81,24.85 L279.50,24.83 L280.20,24.80 L280.89,24.78 L281.59,24.75 L282.29,24.73 L282.99,24.71 L283.70,24.68 L284.40,24.66 L285.11,24.64 L285.82,24.61 L286.54,24.59 L287.25,24.57 L287.97,24.54 L288.69,24.52 L289.41,24.50 L290.14,24.47 L290.87,24.45 L291.59,24.43 L292.33,24.40 L293.06,24.38 L293.80,24.36 L294.53,24.33 L295.27,24.31 L296.02,24.29 L296.76,24.26 L297.51,24.24 L298.26,24.21 L299.01,24.19 L299.76,24.17 L300.52,24.14 L301.28,24.12 L302.04,24.10 L302.80,24.07 L303.57,24.05 L304.34,24.02 L305.11,24.00 L305.88,23.98 L306.66,23.95 L307.44,23.93 L308.22,23.90 L309.00,23.88 L309.78,23.85 L310.57,23.83 L311.36,23.81 L312.15,23.78 L312.95,23.76 L313.75,23.73 L314.55,23.71 L315.35,23.69 L316.15,23.66 L316.96,23.64 L317.77,23.61 L318.58,23.59 L319.40,23.57 L320.21,23.54 L321.03,23.52 L321.86,23.50 L322.68,23.47 L323.51,23.45 L324.34,23.43 L325.17,23.41 L326.01,23.38 L326.84,23.36 L327.68,23.34 L328.53,23.31 L329.37,23.29 L330.22,23.27 L331.07,23.25 L331.92,23.23 L332.78,23.21 L333.64,23.18 L334.50,23.16 L335.36,23.14 L336.23,23.12 L337.10,23.10 L337.97,23.08 L338.85,23.06 L339.72,23.04 L340.60,23.02 L341.49,23.00 L342.37,22.98 L343.26,22.96 L344.15,22.94 L345.04,22.92 L345.94,22.90 L346.84,22.89 L347.74,22.87 L348.65,22.85 L349.55,22.83 L350.47,22.82 L351.38,22.80 L352.29,22.78 L353.21,22.76 L354.14,22.75 L355.06,22.73 L355.99,22.72 L356.92,22.70 L357.85,22.69 L358.79,22.67 L359.73,22.66 L360.67,22.64 L361.61,22.63 L362.56,22.62 L363.51,22.60 L364.46,22.59 L365.42,22.58 L366.38,22.57 L367.34,22.55 L368.31,22.54 L369.28,22.53 L370.25,22.52 L371.22,22.51 L372.20,22.50" fill="none" stroke="#0000ff" stroke-width="2.1" stroke-linejoin="round"/>
<path d="M55.40,206.6 v-3.0 M55.40,3.6 v3.0 M65.92,206.6 v-1.8 M65.92,3.6 v1.8 M76.45,206.6 v-1.8 M76.45,3.6 v1.8 M86.97,206.6 v-1.8 M86.97,3.6 v1.8 M97.49,206.6 v-1.8 M97.49,3.6 v1.8 M108.01,206.6 v-3.0 M108.01,3.6 v3.0 M118.54,206.6 v-1.8 M118.54,3.6 v1.8 M129.06,206.6 v-1.8 M129.06,3.6 v1.8 M139.58,206.6 v-1.8 M139.58,3.6 v1.8 M150.11,206.6 v-1.8 M150.11,3.6 v1.8 M160.63,206.6 v-3.0 M160.63,3.6 v3.0 M171.15,206.6 v-1.8 M171.15,3.6 v1.8 M181.68,206.6 v-1.8 M181.68,3.6 v1.8 M192.20,206.6 v-1.8 M192.20,3.6 v1.8 M202.72,206.6 v-1.8 M202.72,3.6 v1.8 M213.25,206.6 v-3.0 M213.25,3.6 v3.0 M223.77,206.6 v-1.8 M223.77,3.6 v1.8 M234.29,206.6 v-1.8 M234.29,3.6 v1.8 M244.81,206.6 v-1.8 M244.81,3.6 v1.8 M255.34,206.6 v-1.8 M255.34,3.6 v1.8 M265.86,206.6 v-3.0 M265.86,3.6 v3.0 M276.38,206.6 v-1.8 M276.38,3.6 v1.8 M286.91,206.6 v-1.8 M286.91,3.6 v1.8 M297.43,206.6 v-1.8 M297.43,3.6 v1.8 M307.95,206.6 v-1.8 M307.95,3.6 v1.8 M318.47,206.6 v-3.0 M318.47,3.6 v3.0 M329.00,206.6 v-1.8 M329.00,3.6 v1.8 M339.52,206.6 v-1.8 M339.52,3.6 v1.8 M350.04,206.6 v-1.8 M350.04,3.6 v1.8 M360.57,206.6 v-1.8 M360.57,3.6 v1.8 M371.09,206.6 v-3.0 M371.09,3.6 v3.0 M48.6,205.65 h1.8 M377.6,205.65 h-1.8 M48.6,196.50 h3.0 M377.6,196.50 h-3.0 M48.6,187.35 h1.8 M377.6,187.35 h-1.8 M48.6,178.20 h1.8 M377.6,178.20 h-1.8 M48.6,169.05 h1.8 M377.6,169.05 h-1.8 M48.6,159.90 h1.8 M377.6,159.90 h-1.8 M48.6,150.75 h3.0 M377.6,150.75 h-3.0 M48.6,141.60 h1.8 M377.6,141.60 h-1.8 M48.6,132.45 h1.8 M377.6,132.45 h-1.8 M48.6,123.30 h1.8 M377.6,123.30 h-1.8 M48.6,114.15 h1.8 M377.6,114.15 h-1.8 M48.6,105.00 h3.0 M377.6,105.00 h-3.0 M48.6,95.85 h1.8 M377.6,95.85 h-1.8 M48.6,86.70 h1.8 M377.6,86.70 h-1.8 M48.6,77.55 h1.8 M377.6,77.55 h-1.8 M48.6,68.40 h1.8 M377.6,68.40 h-1.8 M48.6,59.25 h3.0 M377.6,59.25 h-3.0 M48.6,50.10 h1.8 M377.6,50.10 h-1.8 M48.6,40.95 h1.8 M377.6,40.95 h-1.8 M48.6,31.80 h1.8 M377.6,31.80 h-1.8 M48.6,22.65 h1.8 M377.6,22.65 h-1.8 M48.6,13.50 h3.0 M377.6,13.50 h-3.0 M48.6,4.35 h1.8 M377.6,4.35 h-1.8" stroke="#505050" stroke-width="0.5" fill="none"/>
<rect x="48.6" y="3.6" width="329.0" height="203.0" fill="none" stroke="#000" stroke-width="1.1"/>
<text transform="translate(55.5,219.1) scale(1.03,1)" text-anchor="middle" class="t">0</text>
<text transform="translate(108.1,219.1) scale(1.03,1)" text-anchor="middle" class="t">5</text>
<text transform="translate(160.7,219.1) scale(1.03,1)" text-anchor="middle" class="t">10</text>
<text transform="translate(213.3,219.1) scale(1.03,1)" text-anchor="middle" class="t">15</text>
<text transform="translate(266.0,219.1) scale(1.03,1)" text-anchor="middle" class="t">20</text>
<text transform="translate(318.6,219.1) scale(1.03,1)" text-anchor="middle" class="t">25</text>
<text transform="translate(371.2,219.1) scale(1.03,1)" text-anchor="middle" class="t">30</text>
<text transform="translate(46.0,16.9) scale(1.03,1)" text-anchor="end" class="t">0</text>
<text transform="translate(46.0,62.6) scale(1.03,1)" text-anchor="end" class="t"><tspan>−</tspan><tspan dx="1.0">5</tspan></text>
<text transform="translate(46.0,108.4) scale(1.03,1)" text-anchor="end" class="t"><tspan>−</tspan><tspan dx="1.0">10</tspan></text>
<text transform="translate(46.0,154.2) scale(1.03,1)" text-anchor="end" class="t"><tspan>−</tspan><tspan dx="1.0">15</tspan></text>
<text transform="translate(46.0,199.9) scale(1.03,1)" text-anchor="end" class="t"><tspan>−</tspan><tspan dx="1.0">20</tspan></text>
<text x="212.9" y="244.6" text-anchor="middle" class="ax">V</text>
<text transform="translate(18.0,104.4) rotate(-90)" text-anchor="middle" class="ax">R</text>
</svg>
</body></html>
